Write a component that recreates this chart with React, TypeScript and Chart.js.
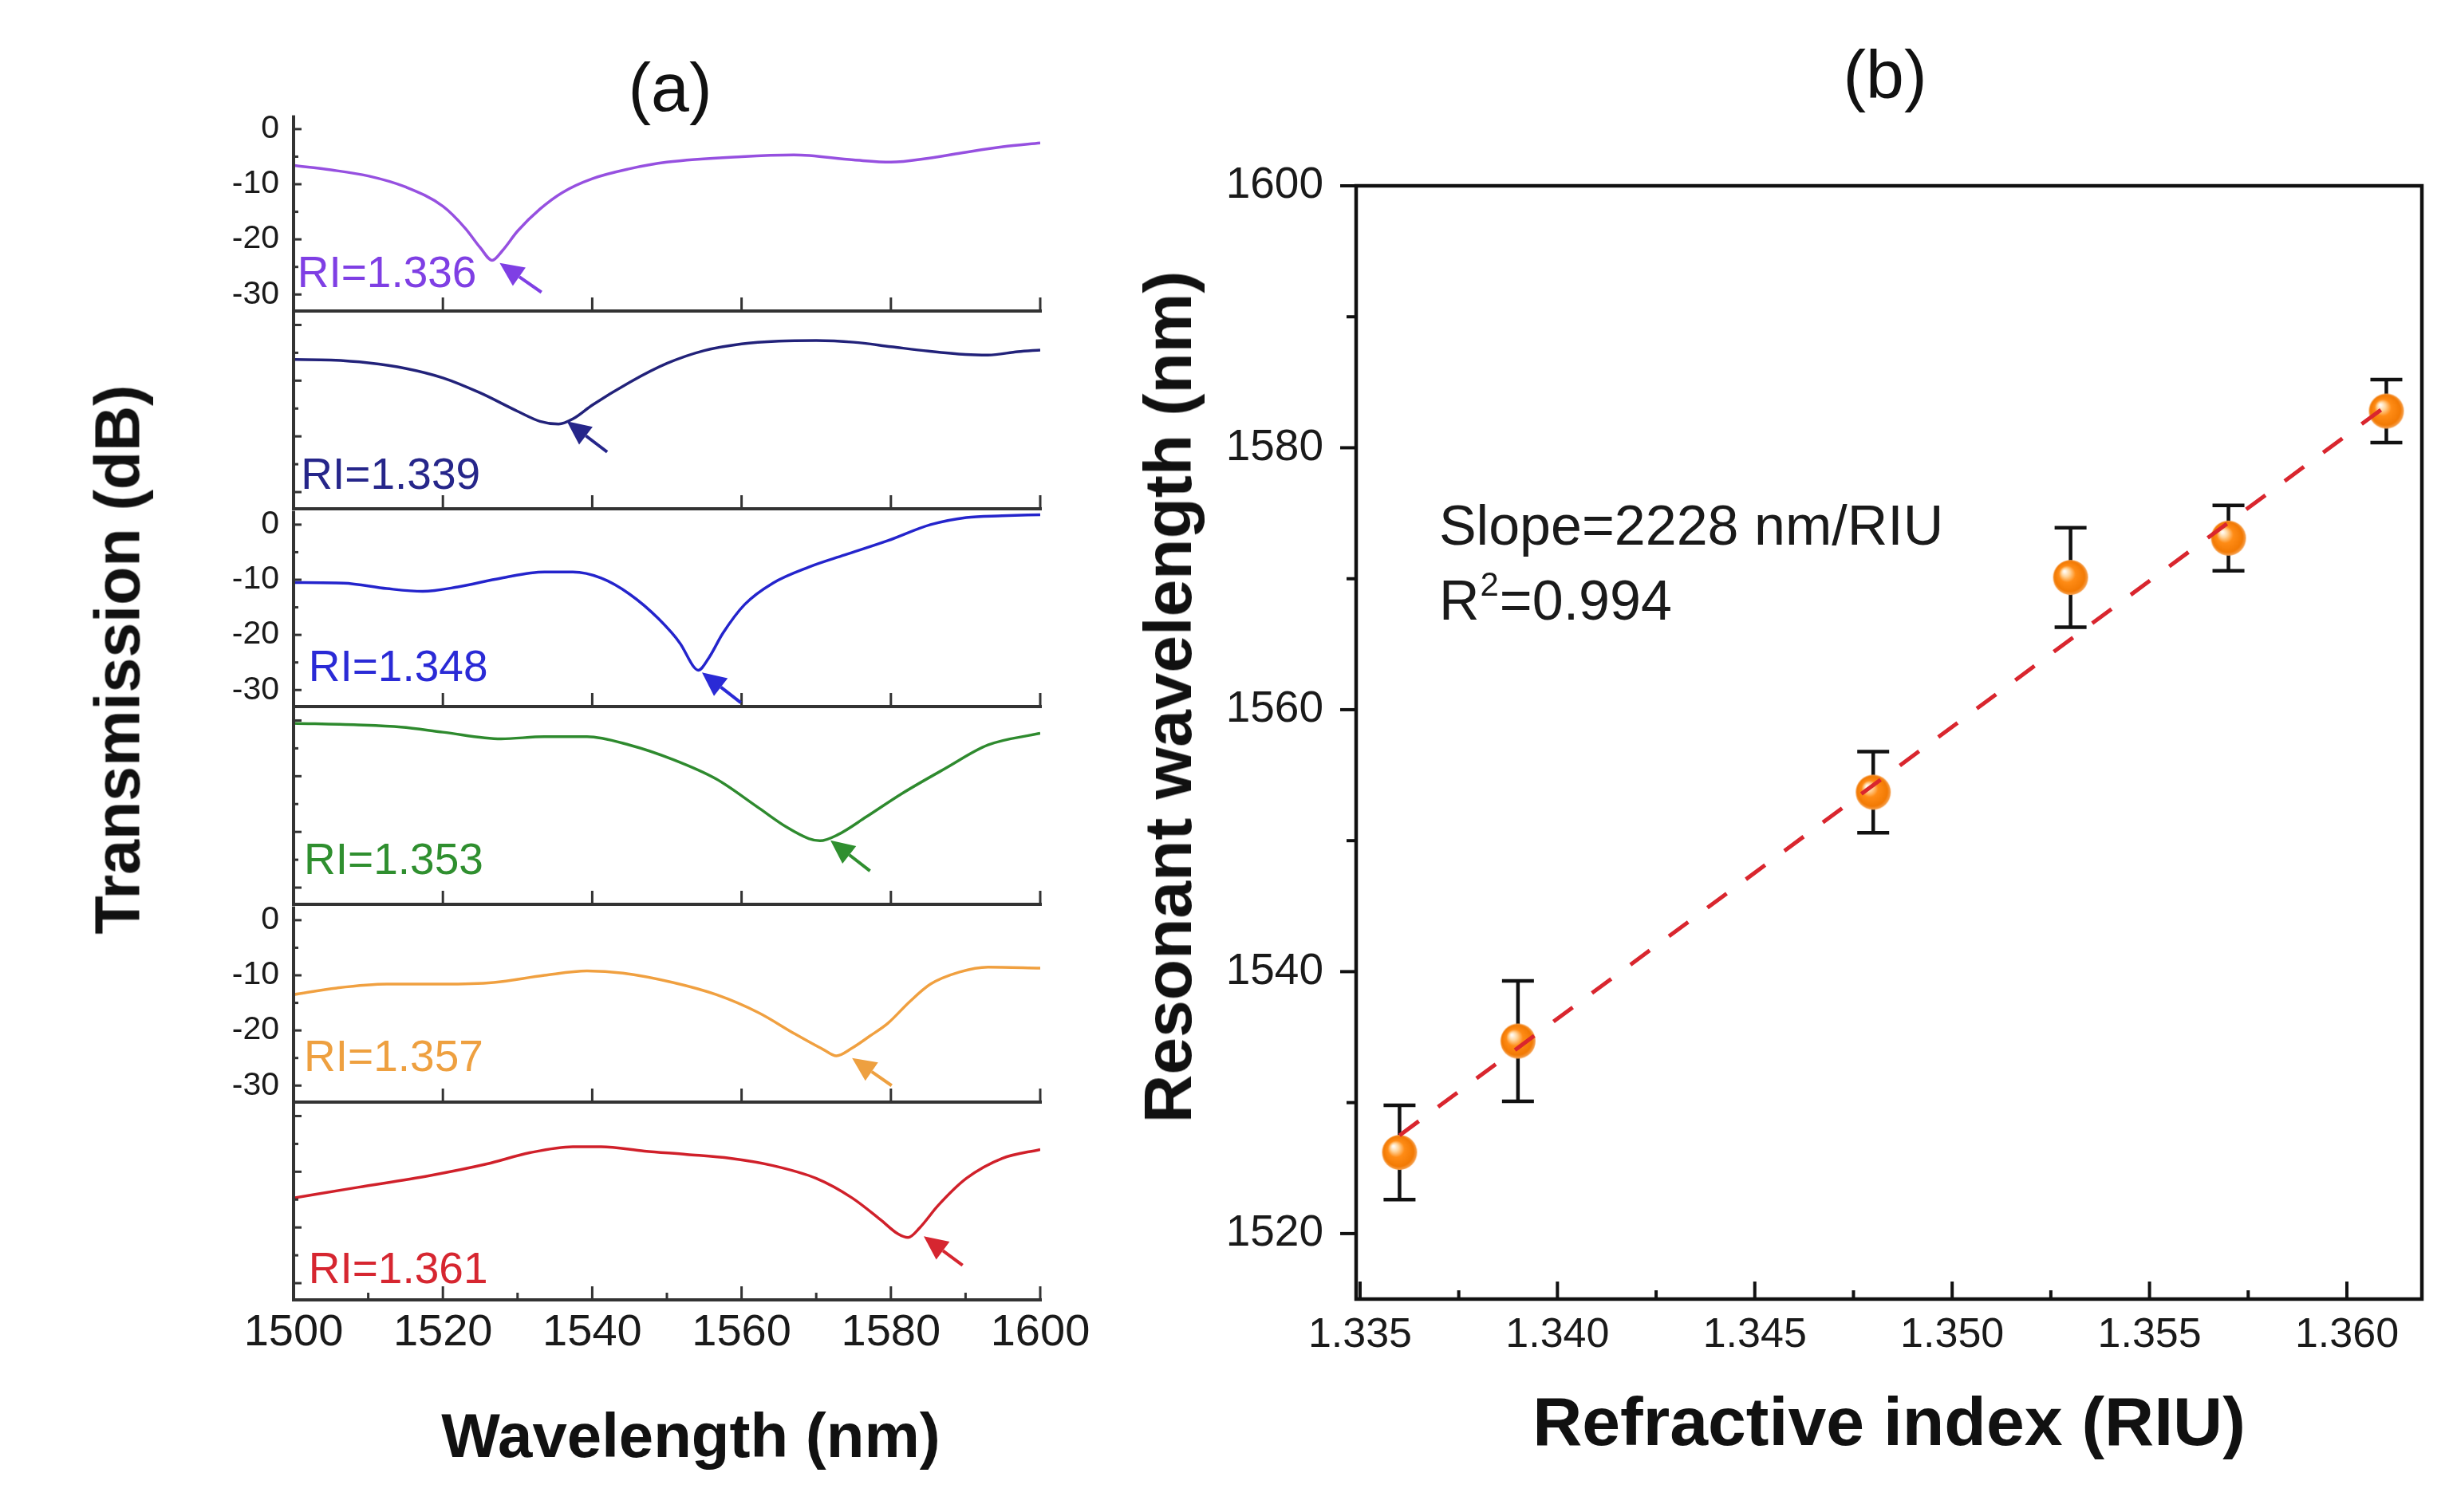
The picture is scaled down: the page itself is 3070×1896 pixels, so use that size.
import React, { useEffect, useRef } from "react";
import { Chart, registerables } from "chart.js";
Chart.register(...registerables);

const FONT = '"Liberation Sans", Arial, Helvetica, sans-serif';

// ---------------- Panel (a) data ----------------
const riLabels = ["RI=1.336", "RI=1.339", "RI=1.348", "RI=1.353", "RI=1.357", "RI=1.361"];

const wl1336 = [1500, 1505, 1510, 1515, 1520, 1523, 1525, 1526.6, 1528, 1530, 1533, 1536, 1540, 1545, 1550, 1560, 1567, 1575, 1580, 1585, 1590, 1595, 1600];
const tr1336 = [-6.6, -7.4, -8.5, -10.5, -14.0, -18.0, -21.5, -23.8, -22.0, -18.5, -14.5, -11.5, -9.0, -7.2, -6.0, -5.0, -4.7, -5.6, -6.0, -5.3, -4.2, -3.2, -2.5];

const wl1339 = [1500, 1505, 1510, 1515, 1520, 1525, 1530, 1533, 1535.5, 1537.5, 1540, 1545, 1550, 1555, 1560, 1565, 1570, 1575, 1580, 1585, 1590, 1593, 1597, 1600];
const tr1339 = [-6.2, -6.3, -6.8, -7.8, -9.5, -12.2, -15.5, -17.3, -17.8, -16.8, -14.4, -10.3, -6.9, -4.6, -3.4, -2.9, -2.8, -3.1, -3.9, -4.7, -5.3, -5.4, -4.8, -4.5];

const wl1348 = [1500, 1506.7, 1512.5, 1517.3, 1522, 1527.8, 1533.6, 1537.4, 1541.2, 1545, 1548.9, 1551.8, 1553.6, 1554.2, 1555.6, 1557.5, 1560.4, 1564.2, 1569, 1573.8, 1579.6, 1585.3, 1590.1, 1594.9, 1600];
const tr1348 = [-10.5, -10.6, -11.6, -12.1, -11.3, -9.7, -8.6, -8.6, -9.7, -12.6, -17.1, -21.6, -25.8, -26.4, -24.2, -19.7, -14.5, -10.6, -7.7, -5.5, -2.9, 0.0, 1.3, 1.6, 1.8];

const wl1353 = [1500, 1508.6, 1514.4, 1520, 1527.8, 1533.6, 1539.3, 1545, 1550.8, 1556.6, 1562.3, 1566.1, 1569, 1570.5, 1572.9, 1576.7, 1581.5, 1587.3, 1593, 1600];
const tr1353 = [-0.5, -0.8, -1.2, -2.1, -3.3, -2.9, -2.9, -4.4, -7.0, -10.5, -15.7, -19.2, -21.2, -21.6, -20.5, -17.3, -13.1, -8.6, -4.4, -2.3];

const wl1357 = [1500, 1505.8, 1512.5, 1520, 1526.8, 1533.6, 1539.3, 1544.1, 1550.8, 1556.6, 1562.3, 1567.1, 1571, 1572.7, 1574.8, 1577.2, 1579.6, 1582.5, 1585.3, 1589.2, 1593, 1600];
const tr1357 = [-13.5, -12.3, -11.6, -11.6, -11.3, -10.0, -9.2, -9.6, -11.3, -13.5, -16.8, -20.6, -23.5, -24.6, -23.2, -21.0, -18.7, -14.8, -11.6, -9.4, -8.5, -8.7];

const wl1361 = [1500, 1508.6, 1518.2, 1525.9, 1531.6, 1537.4, 1541.2, 1547, 1552.7, 1558.5, 1564.2, 1570, 1574.8, 1578.6, 1581, 1582.3, 1583.9, 1586.3, 1590.1, 1594.9, 1600];
const tr1361 = [-14.7, -12.8, -10.7, -8.6, -6.6, -5.5, -5.5, -6.3, -6.9, -7.6, -8.9, -11.2, -14.7, -18.6, -21.2, -21.8, -20.0, -16.1, -11.2, -7.6, -6.0];

const wavelengths = [wl1336, wl1339, wl1348, wl1353, wl1357, wl1361];
const transmissions = [tr1336, tr1339, tr1348, tr1353, tr1357, tr1361];

// arrow annotations (data coordinates: wavelength nm, dB)
const arrowTipWl = [1527.6, 1536.6, 1554.7, 1571.9, 1574.8, 1584.4];
const arrowTipDb = [-24.3, -17.3, -26.8, -21.5, -25.0, -21.6];
const arrowTailWl = [1533.2, 1542.0, 1559.9, 1577.2, 1580.1, 1589.6];
const arrowTailDb = [-29.6, -22.8, -32.3, -27.0, -30.0, -26.8];

const aXMajorTicks = [1500, 1520, 1540, 1560, 1580, 1600];
const aXMinorTicks = [1510, 1530, 1550, 1570, 1590];
const aYMajorTicks = [0, -10, -20, -30];
const aYMinorTicks = [-5, -15, -25];

// ---------------- Panel (b) data ----------------
const riValues = [1.336, 1.339, 1.348, 1.353, 1.357, 1.361];
const resWl = [1526.2, 1534.7, 1553.7, 1570.1, 1573.1, 1582.8];
const resErr = [3.6, 4.6, 3.1, 3.8, 2.5, 2.4];
const fitRi = [1.336, 1.361];
const fitWl = [1527.5, 1583.2];
const bXMajorTicks = [1.335, 1.34, 1.345, 1.35, 1.355, 1.36];
const bXMinorTicks = [1.3375, 1.3425, 1.3475, 1.3525, 1.3575];
const bYMajorTicks = [1520, 1540, 1560, 1580, 1600];
const bYMinorTicks = [1530, 1550, 1570, 1590];
const slopeText = "Slope=2228 nm/RIU";
const r2Value = "=0.994";

// ---------------- styles / layout ----------------
const lineColors = ["#9650e0", "#22227a", "#2424cc", "#2e8a2e", "#f0a040", "#d0202a"];
const textColors = ["#7f3fe4", "#26268a", "#2a2ad6", "#2f8f2f", "#eea040", "#d62630"];
const labelPosWl = [1500.5, 1501, 1502, 1501.4, 1501.4, 1502];
const labelPosDb = [-28.7, -29.4, -28.4, -27.6, -27.4, -30.0];

const A_LEFT = 368;
const A_RIGHT = 1304;
const A_TOP0 = 142;
const A_H = 248;
const A_PADTOP = 40;
const A_PADRIGHT = 80;
const A_PADBOTTOM = 40;

const B_CANVAS_LEFT = 1380;
const B_LEFT = 1700;
const B_RIGHT = 3036;
const B_TOP = 233;
const B_BOTTOM = 1629;
const noteRi = 1.3370;
const noteWl1 = 1572.6;
const noteWl2 = 1566.9;

function drawArrow(ctx: CanvasRenderingContext2D, x0: number, y0: number, x1: number, y1: number, color: string) {
  const ang = Math.atan2(y1 - y0, x1 - x0);
  const headLen = 30;
  const headW = 14;
  const bx = x1 - Math.cos(ang) * headLen;
  const by = y1 - Math.sin(ang) * headLen;
  ctx.strokeStyle = color;
  ctx.lineWidth = 4;
  ctx.beginPath();
  ctx.moveTo(x0, y0);
  ctx.lineTo(bx, by);
  ctx.stroke();
  ctx.fillStyle = color;
  ctx.beginPath();
  ctx.moveTo(x1, y1);
  ctx.lineTo(bx + Math.sin(ang) * headW, by - Math.cos(ang) * headW);
  ctx.lineTo(bx - Math.sin(ang) * headW, by + Math.cos(ang) * headW);
  ctx.closePath();
  ctx.fill();
}

const aDeco = {
  id: "aDeco",
  afterDatasetsDraw(chart: any, _args: any, o: any) {
    const { ctx, chartArea: ca, scales } = chart;
    const x = scales.x;
    const y = scales.y;
    const i = o.index as number;
    ctx.save();
    ctx.fillStyle = "#333";
    ctx.fillRect(ca.left - 2, ca.top, 4, ca.bottom - ca.top + 2);
    ctx.fillRect(ca.left - 2, ca.bottom - 2, ca.right - ca.left + 4, 4);
    aYMajorTicks.forEach((v) => {
      const py = y.getPixelForValue(v);
      ctx.fillRect(ca.left, py - 1.5, 10, 3);
    });
    aYMinorTicks.forEach((v) => {
      const py = y.getPixelForValue(v);
      ctx.fillRect(ca.left, py - 1.5, 6, 3);
    });
    aXMajorTicks.forEach((v) => {
      const px = x.getPixelForValue(v);
      ctx.fillRect(px - 1.5, ca.bottom - 17, 3, 17);
    });
    if (o.last) {
      aXMinorTicks.forEach((v) => {
        const px = x.getPixelForValue(v);
        ctx.fillRect(px - 1.5, ca.bottom - 9, 3, 9);
      });
    }
    ctx.font = `55px ${FONT}`;
    ctx.fillStyle = textColors[i];
    ctx.textAlign = "left";
    ctx.textBaseline = "alphabetic";
    ctx.fillText(riLabels[i], x.getPixelForValue(labelPosWl[i]), y.getPixelForValue(labelPosDb[i]));
    drawArrow(
      ctx,
      x.getPixelForValue(arrowTailWl[i]),
      y.getPixelForValue(arrowTailDb[i]),
      x.getPixelForValue(arrowTipWl[i]),
      y.getPixelForValue(arrowTipDb[i]),
      textColors[i]
    );
    ctx.restore();
  },
};

const bDeco = {
  id: "bDeco",
  beforeDatasetsDraw(chart: any) {
    const { ctx, scales } = chart;
    const x = scales.x;
    const y = scales.y;
    ctx.save();
    ctx.strokeStyle = "#111";
    ctx.lineWidth = 4.5;
    riValues.forEach((ri, k) => {
      const px = x.getPixelForValue(ri);
      const pt = y.getPixelForValue(resWl[k] + resErr[k]);
      const pb = y.getPixelForValue(resWl[k] - resErr[k]);
      ctx.beginPath();
      ctx.moveTo(px, pt);
      ctx.lineTo(px, pb);
      ctx.moveTo(px - 20, pt);
      ctx.lineTo(px + 20, pt);
      ctx.moveTo(px - 20, pb);
      ctx.lineTo(px + 20, pb);
      ctx.stroke();
    });
    ctx.restore();
  },
  afterDraw(chart: any) {
    const { ctx, chartArea: ca, scales } = chart;
    const x = scales.x;
    const y = scales.y;
    ctx.save();
    ctx.strokeStyle = "#111";
    ctx.lineWidth = 4.5;
    ctx.strokeRect(ca.left, ca.top, ca.right - ca.left, ca.bottom - ca.top);
    ctx.fillStyle = "#111";
    bXMajorTicks.forEach((v) => {
      const px = x.getPixelForValue(v);
      ctx.fillRect(px - 2, ca.bottom - 22, 4, 22);
    });
    bXMinorTicks.forEach((v) => {
      const px = x.getPixelForValue(v);
      ctx.fillRect(px - 2, ca.bottom - 11, 4, 11);
    });
    bYMajorTicks.forEach((v) => {
      const py = y.getPixelForValue(v);
      ctx.fillRect(ca.left - 20, py - 2, 20, 4);
    });
    bYMinorTicks.forEach((v) => {
      const py = y.getPixelForValue(v);
      ctx.fillRect(ca.left - 12, py - 2, 12, 4);
    });
    const tx = x.getPixelForValue(noteRi);
    ctx.fillStyle = "#1a1a1a";
    ctx.textAlign = "left";
    ctx.textBaseline = "alphabetic";
    ctx.font = `70px ${FONT}`;
    ctx.fillText(slopeText, tx, y.getPixelForValue(noteWl1));
    const by2 = y.getPixelForValue(noteWl2);
    ctx.fillText("R", tx, by2);
    const rw = ctx.measureText("R").width;
    ctx.font = `42px ${FONT}`;
    ctx.fillText("2", tx + rw + 1, by2 - 30);
    const sw = ctx.measureText("2").width;
    ctx.font = `70px ${FONT}`;
    ctx.fillText(r2Value, tx + rw + sw + 2, by2);
    ctx.restore();
  },
};

function makeSphere(r: number): HTMLCanvasElement {
  const c = document.createElement("canvas");
  const s = Math.ceil(r * 2 + 2);
  c.width = s;
  c.height = s;
  const g = c.getContext("2d")!;
  const cx = s / 2;
  const grad = g.createRadialGradient(cx - r * 0.35, cx - r * 0.35, 1, cx, cx, r);
  grad.addColorStop(0, "#fffaf2");
  grad.addColorStop(0.2, "#ffd49a");
  grad.addColorStop(0.45, "#ff8c16");
  grad.addColorStop(0.85, "#f27a04");
  grad.addColorStop(1, "#f6a456");
  g.fillStyle = grad;
  g.beginPath();
  g.arc(cx, cx, r, 0, Math.PI * 2);
  g.fill();
  return c;
}

function Label(props: { x: number; y: number; size: number; bold?: boolean; rot?: boolean; text: string }) {
  const { x, y, size, bold, rot, text } = props;
  return (
    <div
      style={{
        position: "absolute",
        left: x,
        top: y,
        transform: `translate(-50%,-50%)${rot ? " rotate(-90deg)" : ""}`,
        fontSize: size,
        fontWeight: bold ? 700 : 400,
        lineHeight: 1,
        whiteSpace: "nowrap",
        color: "#111",
        fontFamily: FONT,
      }}
    >
      {text}
    </div>
  );
}

export default function App() {
  const aRefs = useRef<(HTMLCanvasElement | null)[]>([]);
  const bRef = useRef<HTMLCanvasElement | null>(null);

  const subGeom = [0, 1, 2, 3, 4, 5].map((i) => {
    const top = A_TOP0 + A_H * i;
    const last = i === 5;
    const bottomH = last ? 1896 - (top + A_H) : 6;
    const padBottom = last ? 0 : A_PADBOTTOM;
    return { top, canvasTop: top - A_PADTOP, height: A_PADTOP + A_H + bottomH + padBottom, bottomH, padBottom, last };
  });

  useEffect(() => {
    const charts: Chart[] = [];
    subGeom.forEach((g, i) => {
      const cv = aRefs.current[i];
      if (!cv) return;
      const ch = new Chart(cv, {
        type: "line",
        data: {
          datasets: [
            {
              data: wavelengths[i].map((w, k) => ({ x: w, y: transmissions[i][k] })),
              borderColor: lineColors[i],
              borderWidth: 3.5,
              pointRadius: 0,
              cubicInterpolationMode: "monotone",
              fill: false,
            },
          ],
        },
        options: {
          responsive: false,
          animation: false,
          devicePixelRatio: 1,
          events: [],
          layout: { padding: { top: A_PADTOP, right: A_PADRIGHT, left: 0, bottom: g.padBottom } },
          plugins: {
            legend: { display: false },
            tooltip: { enabled: false },
            title: { display: false },
            aDeco: { index: i, last: g.last },
          } as any,
          scales: {
            x: {
              type: "linear",
              min: 1500,
              max: 1600,
              position: "bottom",
              afterBuildTicks: (s: any) => {
                s.ticks = aXMajorTicks.map((v) => ({ value: v }));
              },
              afterFit: (s: any) => {
                s.height = g.bottomH;
              },
              grid: { display: false, drawTicks: false },
              border: { display: false },
              ticks: {
                display: g.last,
                padding: 8,
                autoSkip: false,
                maxRotation: 0,
                color: "#1a1a1a",
                font: { family: FONT, size: 56 },
                callback: (v: any) => String(v),
              },
            },
            y: {
              type: "linear",
              min: -33,
              max: 2.5,
              afterBuildTicks: (s: any) => {
                s.ticks = aYMajorTicks.map((v) => ({ value: v }));
              },
              afterFit: (s: any) => {
                s.width = A_LEFT;
              },
              grid: { display: false, drawTicks: false },
              border: { display: false },
              ticks: {
                display: i % 2 === 0,
                padding: 18,
                autoSkip: false,
                color: "#1a1a1a",
                font: { family: FONT, size: 41 },
                callback: (v: any) => String(v),
              },
            },
          },
        } as any,
        plugins: [aDeco as any],
      });
      charts.push(ch);
    });

    if (bRef.current) {
      const sphere = makeSphere(22);
      const ch = new Chart(bRef.current, {
        type: "scatter",
        data: {
          datasets: [
            {
              type: "line",
              data: fitRi.map((r, k) => ({ x: r, y: fitWl[k] })),
              borderColor: "#d9262e",
              borderWidth: 5,
              borderDash: [30, 30],
              pointRadius: 0,
              fill: false,
              order: 0,
            } as any,
            {
              type: "scatter",
              data: riValues.map((r, k) => ({ x: r, y: resWl[k] })),
              pointStyle: sphere,
              pointRadius: 22,
              order: 1,
            } as any,
          ],
        },
        options: {
          responsive: false,
          animation: false,
          devicePixelRatio: 1,
          events: [],
          layout: { padding: { top: B_TOP, right: 3070 - B_RIGHT, left: 0, bottom: 0 } },
          plugins: { legend: { display: false }, tooltip: { enabled: false }, title: { display: false } },
          scales: {
            x: {
              type: "linear",
              min: 1.3349,
              max: 1.3619,
              afterBuildTicks: (s: any) => {
                s.ticks = bXMajorTicks.map((v) => ({ value: v }));
              },
              afterFit: (s: any) => {
                s.height = 1896 - B_BOTTOM;
              },
              grid: { display: false, drawTicks: false },
              border: { display: false },
              ticks: {
                padding: 14,
                autoSkip: false,
                maxRotation: 0,
                color: "#1a1a1a",
                font: { family: FONT, size: 52 },
                callback: (v: any) => Number(v).toFixed(3),
              },
              title: {
                display: true,
                text: "Refractive index (RIU)",
                color: "#111",
                font: { family: FONT, size: 86, weight: "bold" },
                padding: { top: 0, bottom: 56 },
              },
            },
            y: {
              type: "linear",
              min: 1515,
              max: 1600,
              afterBuildTicks: (s: any) => {
                s.ticks = bYMajorTicks.map((v) => ({ value: v }));
              },
              afterFit: (s: any) => {
                s.width = B_LEFT - B_CANVAS_LEFT;
              },
              grid: { display: false, drawTicks: false },
              border: { display: false },
              ticks: {
                padding: 41,
                autoSkip: false,
                color: "#1a1a1a",
                font: { family: FONT, size: 55 },
                callback: (v: any) => String(v),
              },
            },
          },
        } as any,
        plugins: [bDeco as any],
      });
      charts.push(ch);
    }
    return () => {
      charts.forEach((c) => c.destroy());
    };
  }, []);

  return (
    <div
      style={{
        position: "absolute",
        left: 0,
        top: 0,
        width: 3070,
        height: 1896,
        background: "#ffffff",
        overflow: "hidden",
        fontFamily: FONT,
      }}
    >
      {subGeom.map((g, i) => (
        <canvas
          key={i}
          ref={(el) => {
            aRefs.current[i] = el;
          }}
          width={A_RIGHT + A_PADRIGHT}
          height={g.height}
          style={{ position: "absolute", left: 0, top: g.canvasTop, width: A_RIGHT + A_PADRIGHT, height: g.height }}
        />
      ))}
      <canvas
        ref={bRef}
        width={3070 - B_CANVAS_LEFT}
        height={1896}
        style={{ position: "absolute", left: B_CANVAS_LEFT, top: 0, width: 3070 - B_CANVAS_LEFT, height: 1896 }}
      />
      <Label x={840} y={109} size={86} text="(a)" />
      <Label x={2363} y={93} size={86} text="(b)" />
      <Label x={147} y={827} size={79} bold rot text="Transmission (dB)" />
      <Label x={866} y={1800} size={78} bold text="Wavelength (nm)" />
      <Label x={1464} y={874} size={84} bold rot text="Resonant wavelength (nm)" />
    </div>
  );
}
